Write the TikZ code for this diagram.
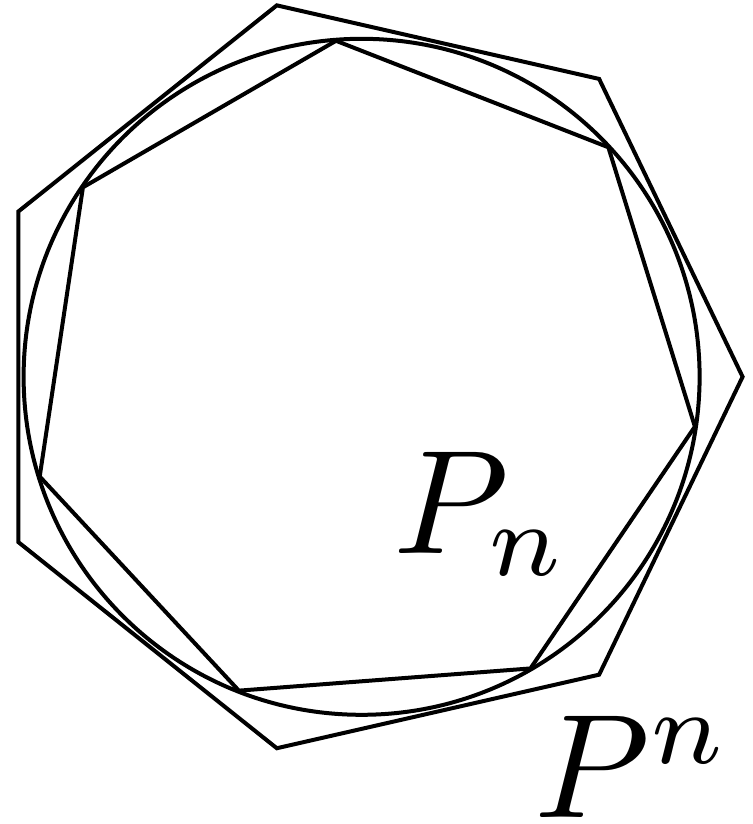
\documentclass[tikz,border=0pt]{standalone}
\usetikzlibrary{calc}
\begin{document}
\begin{tikzpicture}[x=1pt,y=-1pt,line width=4pt,line join=miter,
  lbl/.style={inner sep=0pt,anchor=base west,scale=14.8}]
\useasboundingbox (0,0) rectangle (752,824);
\coordinate (c) at (361.6,376.8);
% circle
\draw (c) circle[radius=338];
% outer heptagon P^n
\draw ($(c)+(0:381)$) \foreach \k in {1,...,6} { -- ($(c)+({-\k*360/7}:381)$) } -- cycle;
% inner heptagon P_n
\draw ($(c)+(8.5:337)$) \foreach \k in {1,...,6} { -- ($(c)+({8.5-\k*360/7}:337)$) } -- cycle;
\node[lbl] (pin) at (364,553) {$P_n$};
\node[lbl] (pout) at (505,817) {$P^n$};
\end{tikzpicture}
\end{document}
